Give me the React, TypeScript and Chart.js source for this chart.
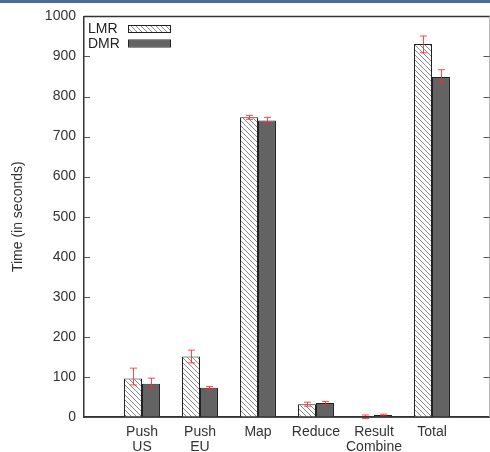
import React, { useEffect, useRef } from 'react';
import { Chart, registerables } from 'chart.js';
Chart.register(...registerables);

const categories: (string | string[])[] = ['', ['Push', 'US'], ['Push', 'EU'], 'Map', 'Reduce', ['Result', 'Combine'], 'Total', ''];
const lmrValues = [null, 96, 151, 748, 32, 0.8, 931, null];
const lmrLow = [null, 80, 135, 743, 27, -4, 909, null];
const lmrHigh = [null, 122, 167, 753, 37, 5, 951, null];
const dmrValues = [null, 83, 73, 740, 35, 5, 849, null];
const dmrLow = [null, 72, 70, 733, 31, 3, 832, null];
const dmrHigh = [null, 97, 76, 748, 39, 7, 867, null];
const seriesNames = ['LMR', 'DMR'];
const yTicks = [0, 100, 200, 300, 400, 500, 600, 700, 800, 900, 1000];

const FONT = '"Liberation Sans", Arial, sans-serif';

function makeHatch(): CanvasPattern | string {
  const c = document.createElement('canvas');
  c.width = 5;
  c.height = 5;
  const g = c.getContext('2d');
  if (!g) return '#ddd';
  g.fillStyle = '#ffffff';
  g.fillRect(0, 0, 5, 5);
  g.strokeStyle = '#8a8a8a';
  g.lineWidth = 1;
  g.beginPath();
  g.moveTo(0, 0); g.lineTo(5, 5);
  g.moveTo(-1, 4); g.lineTo(1, 6);
  g.moveTo(4, -1); g.lineTo(6, 1);
  g.stroke();
  const p = g.createPattern(c, 'repeat');
  return p || '#ddd';
}

export default function App() {
  const ref = useRef<HTMLCanvasElement | null>(null);
  useEffect(() => {
    document.body.style.margin = '0';
    const canvas = ref.current;
    if (!canvas) return;
    const hatch = makeHatch();
    const dark = '#636363';
    const errs = [
      { low: lmrLow, high: lmrHigh },
      { low: dmrLow, high: dmrHigh },
    ];
    const extras = {
      id: 'extras',
      afterDatasetsDraw(chart: any) {
        const ctx = chart.ctx;
        const ys = chart.scales.y;
        const area = chart.chartArea;
        const rightX = 489.5;
        ctx.save();
        // error bars
        ctx.strokeStyle = 'rgba(255,40,40,0.85)';
        ctx.lineWidth = 1;
        errs.forEach((e, di) => {
          const meta = chart.getDatasetMeta(di);
          meta.data.forEach((el: any, i: number) => {
            const lo = e.low[i];
            const hi = e.high[i];
            if (lo == null || hi == null) return;
            const x = Math.round(el.x) + 0.5;
            const y1 = ys.getPixelForValue(lo);
            const y2 = ys.getPixelForValue(hi);
            ctx.beginPath();
            ctx.moveTo(x, y1); ctx.lineTo(x, y2);
            ctx.moveTo(x - 3.5, y1); ctx.lineTo(x + 3.5, y1);
            ctx.moveTo(x - 3.5, y2); ctx.lineTo(x + 3.5, y2);
            ctx.stroke();
          });
        });
        // frame
        ctx.strokeStyle = '#333';
        ctx.lineWidth = 1.5;
        ctx.beginPath();
        ctx.moveTo(area.left, area.top); ctx.lineTo(490, area.top);
        ctx.stroke();
        ctx.beginPath();
        ctx.moveTo(area.left, area.bottom); ctx.lineTo(490, area.bottom);
        ctx.stroke();
        ctx.strokeStyle = '#bbb';
        ctx.lineWidth = 1;
        ctx.beginPath();
        ctx.moveTo(rightX, area.top); ctx.lineTo(rightX, area.bottom);
        ctx.stroke();
        // inward ticks
        ctx.strokeStyle = '#555';
        ctx.lineWidth = 1;
        yTicks.forEach((v) => {
          if (v === 0 || v === 1000) return;
          const y = Math.round(ys.getPixelForValue(v)) + 0.5;
          ctx.beginPath();
          ctx.moveTo(area.left, y); ctx.lineTo(area.left + 6, y);
          ctx.moveTo(rightX - 6, y); ctx.lineTo(rightX, y);
          ctx.stroke();
        });
        // legend
        ctx.font = '14px ' + FONT;
        ctx.textBaseline = 'middle';
        ctx.textAlign = 'left';
        const fills = [hatch, dark];
        seriesNames.forEach((n, i) => {
          const cy = 29 + i * 14.5;
          ctx.fillStyle = '#222';
          ctx.fillText(n, area.left + 4, cy + 0.5);
          ctx.fillStyle = fills[i];
          ctx.fillRect(128, cy - 3, 42, 6);
          ctx.strokeStyle = '#222';
          ctx.lineWidth = 1;
          ctx.strokeRect(128.5, cy - 3.5, 42, 7);
        });
        ctx.restore();
      },
    };
    const chart = new Chart(canvas, {
      type: 'bar',
      data: {
        labels: categories as any,
        datasets: [
          {
            label: seriesNames[0],
            data: lmrValues as any,
            backgroundColor: hatch as any,
            borderColor: '#222',
            borderWidth: 1,
            categoryPercentage: 0.62,
            barPercentage: 1,
          },
          {
            label: seriesNames[1],
            data: dmrValues as any,
            backgroundColor: dark,
            borderColor: '#222',
            borderWidth: 1,
            categoryPercentage: 0.62,
            barPercentage: 1,
          },
        ],
      },
      options: {
        animation: false,
        responsive: false,
        maintainAspectRatio: false,
        layout: { padding: { top: 15, right: -1.5, left: 0, bottom: 0 } },
        plugins: { legend: { display: false }, tooltip: { enabled: false } },
        scales: {
          x: {
            type: 'category',
            offset: false,
            grid: { display: false, drawTicks: false },
            border: { display: true, color: '#333', width: 1.5 },
            ticks: { color: '#333', font: { size: 14, family: FONT, lineHeight: 1.1 }, padding: 7, maxRotation: 0, autoSkip: false },
            afterFit: (s: any) => { s.height = 35; s.paddingLeft = 0; s.paddingRight = 0; },
          },
          y: {
            min: 0,
            max: 1000,
            grid: { display: false, drawTicks: false },
            border: { display: true, color: '#333', width: 1.5 },
            ticks: {
              stepSize: 100,
              color: '#333',
              font: { size: 14, family: FONT },
              padding: 8,
              callback: (v: any) => String(v),
            },
            title: {
              display: true,
              text: 'Time (in seconds)',
              color: '#333',
              font: { size: 14, family: FONT },
              padding: { top: 10, bottom: 0 },
            },
            afterFit: (s: any) => { s.width = 84; },
          },
        },
      },
      plugins: [extras],
    });
    return () => chart.destroy();
  }, []);
  return (
    <div style={{ position: 'relative', width: 490, height: 452, background: '#fff', overflow: 'hidden' }}>
      <div style={{ position: 'absolute', left: 0, top: 0, width: 490, height: 3, background: '#4a6a9a' }} />
      <canvas ref={ref} width={490} height={452} style={{ display: 'block', width: 490, height: 452 }} />
    </div>
  );
}
